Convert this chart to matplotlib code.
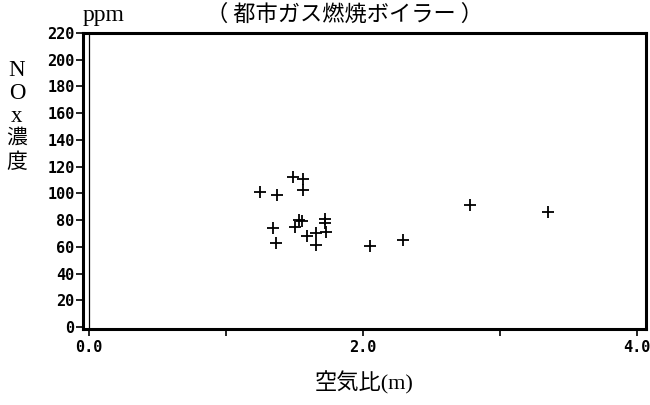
#!/usr/bin/env python3
import matplotlib
matplotlib.use('Agg')
import matplotlib.pyplot as plt

# NOx concentration vs air ratio (city gas boiler)
air_ratio = [1.25, 1.37, 1.49, 1.56, 1.56, 1.34, 1.365, 1.50, 1.535, 1.555,
             1.59, 1.655, 1.655, 1.72, 1.72, 1.73, 2.05, 2.29, 2.78, 3.35]
nox_ppm = [101, 99, 112.5, 111, 102.5, 74, 62.5, 75, 80, 79,
           68, 70, 61, 80.5, 78, 71, 60.5, 65, 91, 86]

x_ticks = [0, 1, 2, 3, 4]
x_ticklabels = ['0.0', '', '2.0', '', '4.0']
y_ticks = list(range(0, 221, 20))

CJK = ['Liberation Serif', 'Noto Sans CJK JP', 'DejaVu Sans']

fig = plt.figure(figsize=(6.5, 4.05), dpi=100)
ax = fig.add_axes([83 / 650, 1 - 329 / 405, 563 / 650, 296 / 405])

ax.plot(air_ratio, nox_ppm, linestyle='none', marker='+', color='black',
        markersize=8, markeredgewidth=1.3)
ax.axvline(0, color='black', lw=0.9)

ax.set_xlim(-0.044, 4.066)
ax.set_ylim(-1.5, 220)
ax.set_xticks(x_ticks)
ax.set_xticklabels(x_ticklabels)
ax.set_yticks(y_ticks)
ax.set_yticklabels([str(v) for v in y_ticks])

for lab in ax.get_xticklabels() + ax.get_yticklabels():
    lab.set_fontfamily('DejaVu Sans Mono')
    lab.set_fontweight('bold')
    lab.set_fontsize(11)

ax.tick_params(axis='both', direction='out', length=5, width=1.2, color='black')
ax.tick_params(axis='y', pad=1)
ax.tick_params(axis='x', pad=3)
for s in ax.spines.values():
    s.set_linewidth(2.2)
    s.set_color('black')

# title, unit, axis labels
fig.text(345 / 650, 1 - 14 / 405, '（ 都市ガス燃焼ボイラー ）', ha='center', va='center',
         fontsize=16, family=['Noto Sans CJK JP', 'DejaVu Sans'])
fig.text(104 / 650, 1 - 15 / 405, 'ppm', ha='center', va='center',
         fontsize=17, family='Liberation Serif')
ylab_chars = ['N', 'O', 'x', '濃', '度']
ylab_sizes = [16.5, 16.5, 16.5, 15, 15]
for i, ch in enumerate(ylab_chars):
    fig.text(17 / 650, 1 - (70 + i * 23.2) / 405, ch, ha='center', va='center',
             fontsize=ylab_sizes[i], family=CJK)
fig.text(364 / 650, 1 - 383 / 405, '空気比(m)', ha='center', va='center',
         fontsize=16, family=CJK)

fig.savefig('out.png', dpi=100, facecolor='white')
